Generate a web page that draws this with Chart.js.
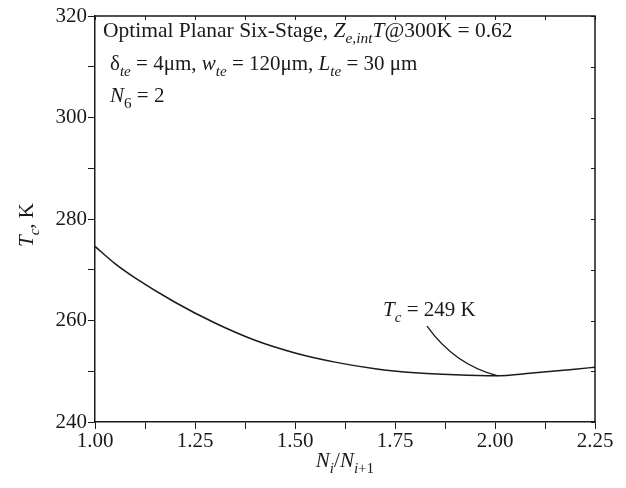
<!DOCTYPE html>
<html>
<head>
<meta charset="utf-8">
<script src="https://cdn.jsdelivr.net/npm/chart.js@4.4.1/dist/chart.umd.min.js"></script>
<style>
  html, body { margin: 0; padding: 0; background: #fff; }
  #wrap { width: 626px; height: 488px; }
</style>
</head>
<body>
<div id="wrap"><canvas id="chart" width="626" height="488"></canvas></div>
<script>
// Ni/Ni+1 ratio vs cold-side temperature
const ratioVals = [1.00, 1.05, 1.10, 1.20, 1.30, 1.40, 1.50, 1.60, 1.70, 1.80, 1.90, 2.00, 2.10, 2.20, 2.25];
const tcVals    = [274.6, 271.2, 268.4, 263.6, 259.5, 256.1, 253.6, 251.8, 250.5, 249.7, 249.3, 249.1, 249.7, 250.4, 250.8];

const xMin = 1.0, xMax = 2.25, xStep = 0.125;
const yMin = 240, yMax = 320, yStep = 10;

// annotation "Tc = 249 K" — leader curve in data units: start, control, end
const leaderPts = [[1.83, 258.9], [1.90, 251.2], [2.0075, 249.1]];
const leaderText = [1.72, 260.9];

const FONT = "'Liberation Serif', 'DejaVu Serif', serif";
const INK = '#1a1a1a';

// segments: { t: text, i: italic, s: subscript }
function drawRich(ctx, x, y, segs, size, align = 'left') {
  const fontOf = (seg) => {
    const sz = seg.s ? size * 0.72 : size;
    return `${seg.i ? 'italic ' : ''}${sz}px ${FONT}`;
  };
  let total = 0;
  segs.forEach(seg => { ctx.font = fontOf(seg); total += ctx.measureText(seg.t).width; });
  let cx = align === 'center' ? x - total / 2 : x;
  ctx.textAlign = 'left';
  ctx.textBaseline = 'alphabetic';
  segs.forEach(seg => {
    ctx.font = fontOf(seg);
    ctx.fillText(seg.t, cx, y + (seg.s ? size * 0.3 : 0));
    cx += ctx.measureText(seg.t).width;
  });
}

const frameAndText = {
  id: 'frameAndText',
  afterDraw(chart) {
    const { ctx, chartArea: a, scales: { x, y } } = chart;
    ctx.save();
    ctx.strokeStyle = INK;
    ctx.fillStyle = INK;

    // top & right frame with inward ticks
    ctx.lineWidth = 1.5;
    ctx.beginPath();
    ctx.moveTo(a.left, a.top); ctx.lineTo(a.right, a.top); ctx.lineTo(a.right, a.bottom);
    ctx.stroke();
    ctx.lineWidth = 1;
    ctx.beginPath();
    x.ticks.forEach(t => {
      const px = Math.round(x.getPixelForValue(t.value)) + 0.5;
      ctx.moveTo(px, a.top); ctx.lineTo(px, a.top + 4);
    });
    y.ticks.forEach(t => {
      const py = Math.round(y.getPixelForValue(t.value)) + 0.5;
      ctx.moveTo(a.right, py); ctx.lineTo(a.right - 4, py);
    });
    ctx.stroke();

    // leader curve for the minimum
    const p = leaderPts.map(([vx, vy]) => [x.getPixelForValue(vx), y.getPixelForValue(vy)]);
    ctx.lineWidth = 1.3;
    ctx.beginPath();
    ctx.moveTo(p[0][0], p[0][1]);
    ctx.quadraticCurveTo(p[1][0], p[1][1], p[2][0], p[2][1]);
    ctx.stroke();

    drawRich(ctx, x.getPixelForValue(leaderText[0]), y.getPixelForValue(leaderText[1]),
      [{ t: 'T', i: 1 }, { t: 'c', i: 1, s: 1 }, { t: ' = 249 K' }], 21);

    // header text block
    drawRich(ctx, a.left + 8, a.top + 21, [
      { t: 'Optimal Planar Six-Stage, ' }, { t: 'Z', i: 1 }, { t: 'e,int', i: 1, s: 1 },
      { t: 'T', i: 1 }, { t: '@300K = 0.62' }], 21.5);
    drawRich(ctx, a.left + 15, a.top + 54, [
      { t: 'δ' }, { t: 'te', i: 1, s: 1 }, { t: ' = 4μm, ' },
      { t: 'w', i: 1 }, { t: 'te', i: 1, s: 1 }, { t: ' = 120μm, ' },
      { t: 'L', i: 1 }, { t: 'te', i: 1, s: 1 }, { t: ' = 30 μm' }], 21);
    drawRich(ctx, a.left + 15, a.top + 86, [
      { t: 'N', i: 1 }, { t: '6', s: 1 }, { t: ' = 2' }], 21);

    // axis titles
    drawRich(ctx, (a.left + a.right) / 2, a.bottom + 45, [
      { t: 'N', i: 1 }, { t: 'i', i: 1, s: 1 }, { t: '/' },
      { t: 'N', i: 1 }, { t: 'i', i: 1, s: 1 }, { t: '+1', s: 1 }], 21, 'center');
    ctx.translate(33, (a.top + a.bottom) / 2 + 6);
    ctx.rotate(-Math.PI / 2);
    drawRich(ctx, 0, 0, [{ t: 'T', i: 1 }, { t: 'c', i: 1, s: 1 }, { t: ', K' }], 21, 'center');
    ctx.restore();
  }
};

const axisCommon = {
  grid: { display: true, drawOnChartArea: false, drawTicks: true, tickLength: 7, color: INK, lineWidth: 1 },
  border: { display: true, color: INK, width: 1.5 },
};

new Chart(document.getElementById('chart'), {
  type: 'line',
  data: {
    datasets: [{
      data: ratioVals.map((v, i) => ({ x: v, y: tcVals[i] })),
      borderColor: INK,
      borderWidth: 1.5,
      pointRadius: 0,
      cubicInterpolationMode: 'monotone',
      fill: false
    }]
  },
  options: {
    responsive: false,
    animation: false,
    devicePixelRatio: 1,
    layout: { padding: { top: 16, right: 31, left: 0, bottom: 0 } },
    plugins: { legend: { display: false }, tooltip: { enabled: false } },
    scales: {
      x: {
        type: 'linear', min: xMin, max: xMax,
        ...axisCommon,
        afterFit(scale) { scale.height = 66; },
        ticks: {
          stepSize: xStep, autoSkip: false, maxRotation: 0, padding: 0,
          color: INK, font: { family: FONT, size: 21 },
          callback: v => Math.abs(v * 4 - Math.round(v * 4)) < 1e-6 ? v.toFixed(2) : ''
        }
      },
      y: {
        type: 'linear', min: yMin, max: yMax,
        ...axisCommon,
        afterFit(scale) { scale.width = 95; },
        ticks: {
          stepSize: yStep, autoSkip: false, padding: 1,
          color: INK, font: { family: FONT, size: 21 },
          callback: v => v % 20 === 0 ? v : ''
        }
      }
    }
  },
  plugins: [frameAndText]
});
</script>
</body>
</html>
